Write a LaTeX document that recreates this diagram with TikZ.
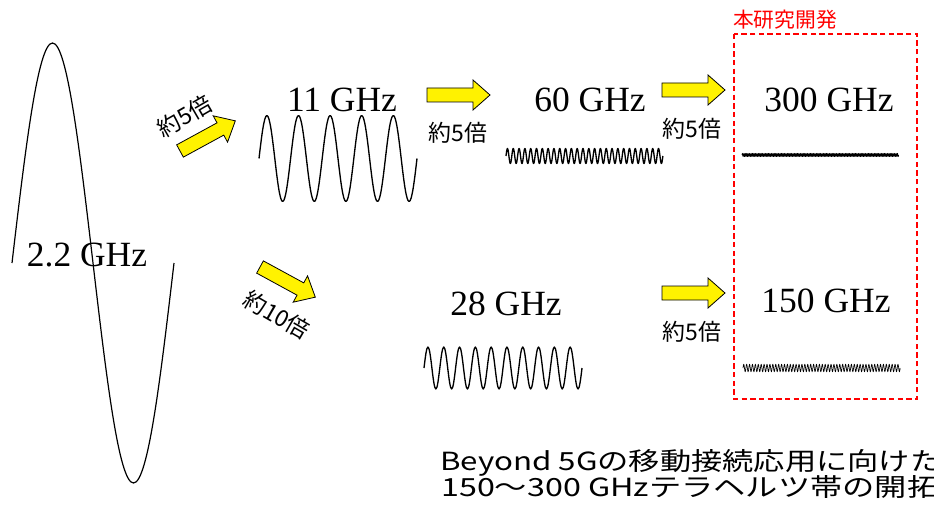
\documentclass[tikz,border=0pt]{standalone}
\usepackage{fontspec}
\setmainfont{Liberation Serif}
\newfontfamily\jp{Noto Sans CJK JP}
\newcommand\wavexy[6]{% x0, yc, amp, period, ncycles, width
  \draw[line width=#6, black, line join=round] (#1,#2)
    \foreach \k in {1,...,#5}{
      sin ++({#4/4},{-#3}) cos ++({#4/4},{#3})
      sin ++({#4/4},{#3}) cos ++({#4/4},{-#3}) };}
\newcommand\yarr[3]{% tail x, tail y, angle
  \begin{scope}[shift={(#1,#2)}, rotate=#3]
    \draw[yarrowstyle] (0,-7) -- (46,-7) -- (46,-15) -- (63,0)
      -- (46,15) -- (46,7) -- (0,7) -- cycle;
  \end{scope}}
\tikzset{
  freq/.style={font=\fontsize{26.6}{30}\selectfont, inner sep=0pt},
  mult/.style={font=\jp\fontsize{17.2}{19}\selectfont, inner sep=0pt},
  yarrowstyle/.style={fill=yellow, draw=black, line width=0.6pt, line join=miter},
  bottomtext/.style={anchor=west, font=\jp\fontsize{18.75}{22}\selectfont, inner sep=0pt}
}
\begin{document}
\begin{tikzpicture}[x=0.75pt,y=-0.75pt]
\useasboundingbox (0,0) rectangle (934,520);
\clip (0,0) rectangle (934,520);
% waves
\wavexy{12}{263}{220}{162}{1}{0.9pt}
\wavexy{259}{158.5}{43}{31.6}{5}{1pt}
\wavexy{506}{156}{7.5}{5.81}{27}{1pt}
\wavexy{742}{155}{1.6}{1.45}{108}{0.6pt}
\wavexy{424}{368}{21}{15.8}{10}{1pt}
\wavexy{743}{368}{3.8}{2.91}{54}{0.5pt}
% frequency labels
\node[freq] (f22) at (87,255) {2.2 GHz};
\node[freq] (f11) at (342,100) {11 GHz};
\node[freq] (f60) at (590,100) {60 GHz};
\node[freq] (f300) at (829,100) {300 GHz};
\node[freq] (f28) at (506,303.5) {28 GHz};
\node[freq] (f150) at (826,300.5) {150 GHz};
% yellow arrows
\yarr{180}{151}{28.6}
\yarr{260}{267}{-28.6}
\yarr{427}{95}{0}
\yarr{662}{90}{0}
\yarr{662}{293}{0}
% multiplier labels
\node[mult, rotate=30] (m1) at (185,116) {約5倍};
\node[mult, rotate=-30] (m10) at (277,315) {約10倍};
\node[mult] (m2) at (458,133) {約5倍};
\node[mult] (m3) at (692,129) {約5倍};
\node[mult] (m4) at (692,332) {約5倍};
% research box
\node[red, inner sep=0pt, font=\jp\fontsize{15.6}{18}\selectfont] (lab) at (785,20) {本研究開発};
\draw[red, line width=1.1pt, dash pattern=on 4pt off 2.5pt] (734,34) rectangle (917,399);
% bottom text
\node[bottomtext] (t1) at (440,463) {\scalebox{1.25}[1]{Beyond 5Gの移動接続応用に向けた}};
\node[bottomtext] (t2) at (441,487) {\scalebox{1.29}[1]{150～300 GHzテラヘルツ帯の開拓}};
\end{tikzpicture}
\end{document}
